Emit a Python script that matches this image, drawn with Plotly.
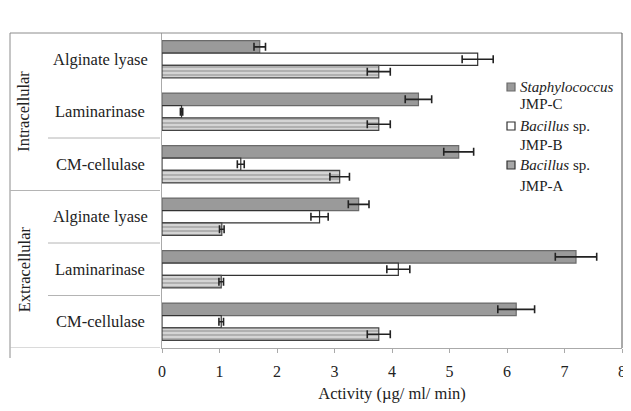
import plotly.graph_objects as go

categories = ["Alginate lyase", "Laminarinase", "CM-cellulase",
              "Alginate lyase", "Laminarinase", "CM-cellulase"]
groups = ["Intracellular", "Extracellular"]
positions = [0, 1, 2, 3, 4, 5]

series_names = [("Staphylococcus", "", "JMP-C"),
                ("Bacillus", " sp.", "JMP-B"),
                ("Bacillus", " sp.", "JMP-A")]

staph_c = [1.70, 4.46, 5.16, 3.42, 7.20, 6.16]
staph_c_err = [0.10, 0.23, 0.26, 0.18, 0.36, 0.32]
bac_b = [5.49, 0.34, 1.37, 2.74, 4.11, 1.03]
bac_b_err = [0.27, 0.02, 0.06, 0.15, 0.20, 0.04]
bac_a = [3.77, 3.77, 3.09, 1.04, 1.03, 3.77]
bac_a_err = [0.20, 0.20, 0.17, 0.04, 0.04, 0.20]

serif = "Liberation Serif"
txt = "#222222"

fig = go.Figure()
err_style = dict(type="data", thickness=1.6, width=4, color="#222222")

fig.add_trace(go.Bar(
    y=positions, x=staph_c, orientation="h", showlegend=False,
    marker=dict(color="#9a9a9a", line=dict(color="#6a6a6a", width=1.2)),
    error_x=dict(array=staph_c_err, **err_style),
))
fig.add_trace(go.Bar(
    y=positions, x=bac_b, orientation="h", showlegend=False,
    marker=dict(color="#ffffff", line=dict(color="#333333", width=1.2)),
    error_x=dict(array=bac_b_err, **err_style),
))
fig.add_trace(go.Bar(
    y=positions, x=bac_a, orientation="h", showlegend=False,
    marker=dict(color="#d4d4d4", line=dict(color="#444444", width=1.2),
                pattern=dict(shape="-", fgcolor="#7a7a7a", bgcolor="#d4d4d4",
                             size=4, solidity=0.4)),
    error_x=dict(array=bac_a_err, **err_style),
))

# page pixel helpers (page has 8px body margin)
PL, PR, PT, PB = 162, 622, 33, 348
FW, FH = 623, 395
def px(xpage):
    return (xpage - PL) / (PR - PL)
def py(ypage):
    return (PB - ypage) / (PB - PT)

shapes = []
frame = dict(color="#8c8c8c", width=1)
shapes.append(dict(type="line", xref="paper", yref="paper", x0=px(10), x1=1, y0=1, y1=1, line=frame))
shapes.append(dict(type="line", xref="paper", yref="paper", x0=1, x1=1, y0=0, y1=1,
                   line=dict(color="#555555", width=1)))
shapes.append(dict(type="line", xref="paper", yref="paper", x0=px(10), x1=px(10), y0=py(358), y1=1, line=frame))
for b, x0 in [(1.5, 48), (2.5, 10), (3.5, 48), (4.5, 48), (5.5, 10)]:
    shapes.append(dict(type="line", xref="paper", yref="y", x0=px(x0), x1=px(160), y0=b, y1=b,
                       line=dict(color="#b4b4b4", width=1)))

annotations = []
for p, c in zip(positions, categories):
    annotations.append(dict(xref="paper", yref="y", x=px(100), y=p, text=c, showarrow=False,
                            xanchor="center", yanchor="middle",
                            font=dict(family=serif, size=16.5, color=txt)))
for g, gy in zip(groups, [1, 4]):
    annotations.append(dict(xref="paper", yref="y", x=px(24), y=gy, text=g, showarrow=False,
                            xanchor="center", yanchor="middle", textangle=-90,
                            font=dict(family=serif, size=16.5, color=txt)))

# manual legend
leg_fill = ["#9a9a9a", "#ffffff", "#a8a8a8"]
leg_line = ["#6a6a6a", "#333333", "#333333"]
leg_y1 = [87, 126, 165]
leg_y2 = [104, 145, 186]
for (it, rest, strain), fc, lc, y1, y2 in zip(series_names, leg_fill, leg_line, leg_y1, leg_y2):
    shapes.append(dict(type="rect", xref="paper", yref="paper",
                       x0=px(507), x1=px(515), y0=py(y1 + 4), y1=py(y1 - 4),
                       fillcolor=fc, line=dict(color=lc, width=1.2)))
    annotations.append(dict(xref="paper", yref="paper", x=px(517.5), y=py(y1),
                            text=f"<i>{it}</i>{rest}", showarrow=False,
                            xanchor="left", yanchor="middle",
                            font=dict(family=serif, size=15, color=txt)))
    annotations.append(dict(xref="paper", yref="paper", x=px(517.5), y=py(y2),
                            text=strain, showarrow=False,
                            xanchor="left", yanchor="middle",
                            font=dict(family=serif, size=15, color=txt)))

fig.update_layout(
    width=FW, height=FH,
    margin=dict(l=PL - 8, r=FW - (PR - 8), t=PT - 8, b=FH - (PB - 8)),
    paper_bgcolor="white", plot_bgcolor="white",
    barmode="group", bargap=0.29, bargroupgap=0,
    font=dict(family=serif, size=15, color=txt),
    shapes=shapes, annotations=annotations,
    showlegend=False,
    xaxis=dict(range=[0, 8], dtick=1, tick0=0, showgrid=False, zeroline=False,
               showline=True, linecolor="#aaaaaa", linewidth=1,
               ticks="outside", ticklen=4, tickcolor="#aaaaaa", automargin=False,
               ticklabelstandoff=5, ticklabeloverflow="allow",
               tickfont=dict(family=serif, size=16, color=txt),
               title=dict(text="Activity (µg/ ml/ min)", standoff=9,
                          font=dict(family=serif, size=16.5, color=txt))),
    yaxis=dict(range=[5.5, -0.5], showticklabels=False, showgrid=False, zeroline=False,
               showline=True, linecolor="#aaaaaa", linewidth=1, ticks="", automargin=False),
)

fig.write_html("out.html")
